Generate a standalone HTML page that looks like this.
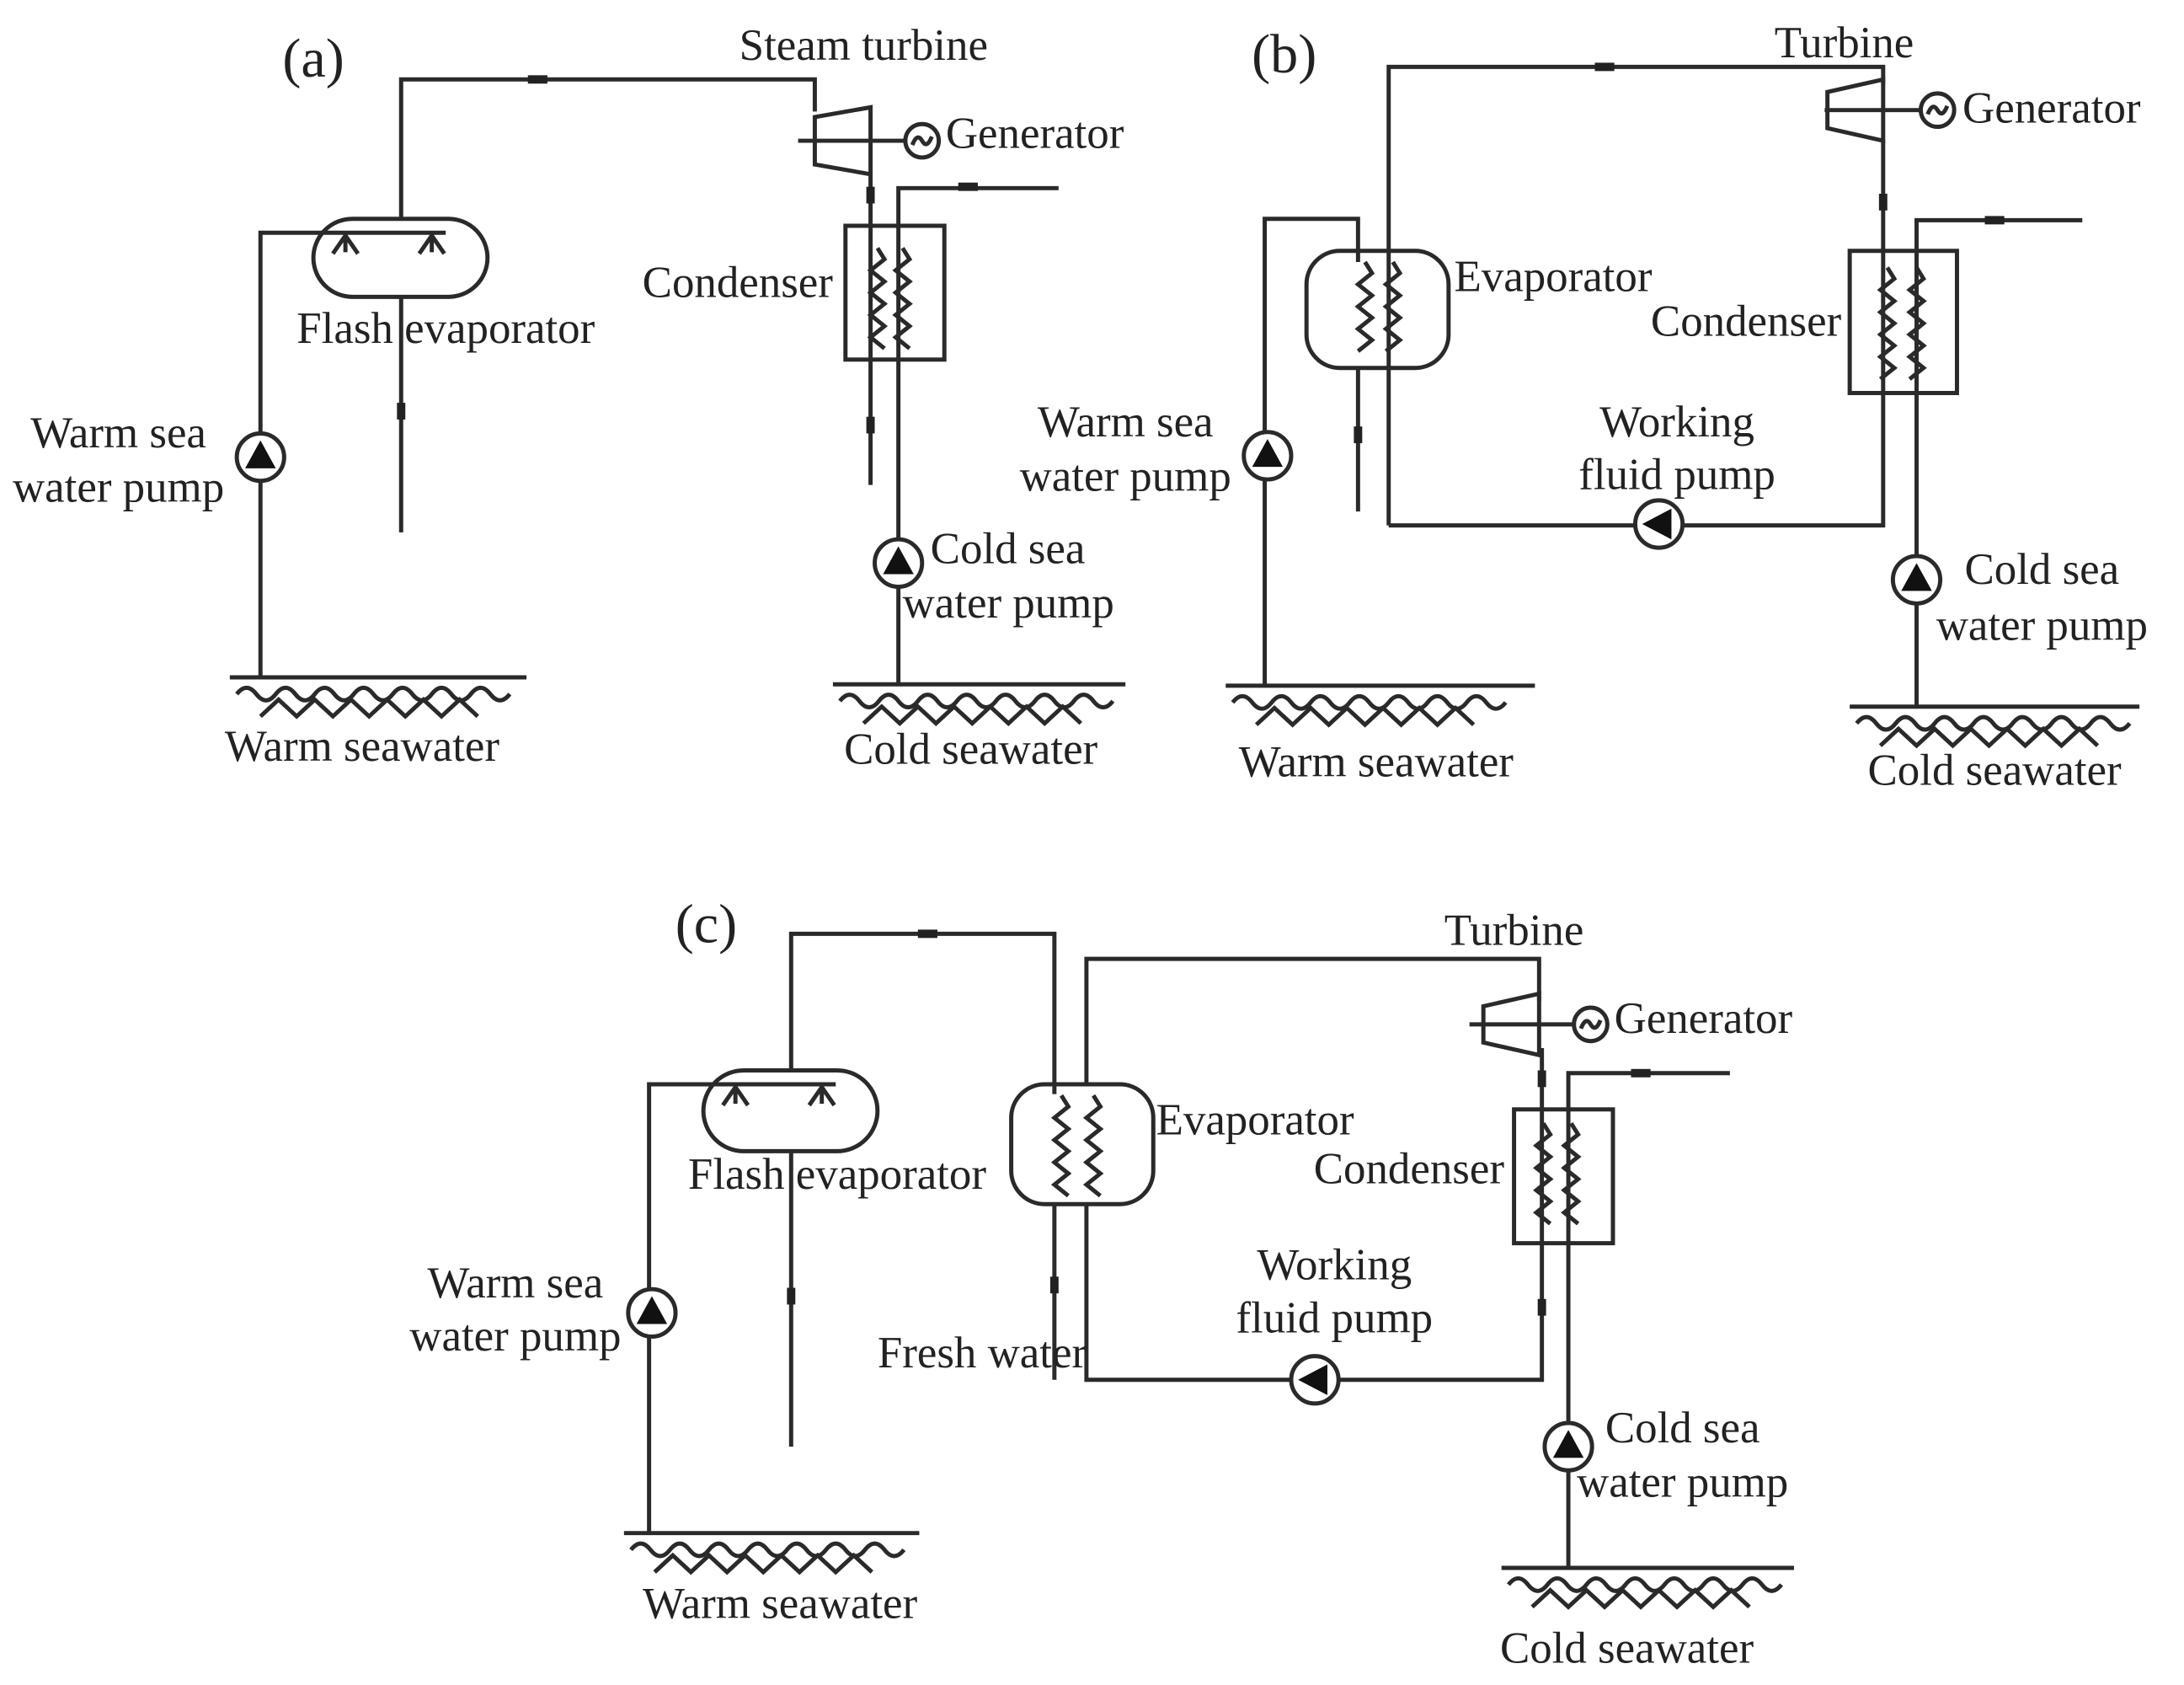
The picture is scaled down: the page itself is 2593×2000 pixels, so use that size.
<!DOCTYPE html>
<html><head><meta charset="utf-8"><style>
html,body{margin:0;padding:0;background:#fff;}
svg{display:block;}
text{font-family:"Liberation Serif",serif;font-size:32px;fill:#222;}
</style></head><body>
<svg id="s" width="2593" height="2000" viewBox="0 0 1568 1209" preserveAspectRatio="none" xmlns="http://www.w3.org/2000/svg">
<g id="g" stroke="#2a2a2a" stroke-width="3" fill="none"></g>
<g id="t"></g>
</svg>
<script>
const g=document.getElementById('g'),t=document.getElementById('t');
const NS='http://www.w3.org/2000/svg';
function el(p,tag,a){const e=document.createElementNS(NS,tag);for(const k in a)e.setAttribute(k,a[k]);p.appendChild(e);return e;}
function L(pts){el(g,'polyline',{points:pts});}
function conn(x,y,v){ if(v) el(g,'rect',{x:x-3,y:y-6,width:6,height:12,fill:'#222',stroke:'none'}); else el(g,'rect',{x:x-7,y:y-3,width:14,height:6,fill:'#222',stroke:'none'});}
function pump(x,y,dir){el(g,'circle',{cx:x,cy:y,r:17,fill:'#fff'});
 let p= dir==='l'? `${x-12},${y} ${x+9},${y-11} ${x+9},${y+11}` : `${x},${y-12} ${x-11},${y+8} ${x+11},${y+8}`;
 el(g,'polygon',{points:p,fill:'#111',stroke:'none'});}
function gen(x,y){el(g,'circle',{cx:x,cy:y,r:12,fill:'#fff'});el(g,'path',{d:`M${x-7},${y+3} q3.5,-9 7,-3 q3.5,6 7,-3`});}
function turb(xl,xr,y,h1,h2){el(g,'polygon',{points:`${xl},${y-h1} ${xr},${y-h2} ${xr},${y+h2} ${xl},${y+h1}`});}
function coil(x,y1,y2){let d=`M${x},${y1}`;let s=1;for(let y=y1+8;y<=y2;y+=8){d+=` L${x+5*s},${y}`;s=-s;}el(g,'path',{d});}
function ground(x1,x2,y){L(`${x1},${y} ${x2},${y}`);
 let d=`M${x1+5},${y+12}`;for(let x=x1+5;x<x1+0.85*(x2-x1);x+=28)d+=` q7,-9 14,0 q7,9 14,0`;el(g,'path',{d});
 let d2=`M${x1+22},${y+28}`;for(let x=x1+22;x<x1+0.78*(x2-x1);x+=26)d2+=` l13,-12 l13,12`;el(g,'path',{d:d2});}
function nozz(x,y){el(g,'path',{d:`M${x-9},${y+15} L${x},${y+2} L${x+9},${y+15} M${x},${y} L${x},${y+14}`});}
function T(x,y,s,anchor,size){const e=el(t,'text',{x,y,'text-anchor':anchor||'start'});if(size)e.setAttribute('style','font-size:'+size+'px');e.textContent=s;}

/* (a) */
L('288,157 288,57 585,57 585,80');conn(386,57);
turb(585,625,101,17,24);L('573,101 650,101');gen(662,101);
L('625,125 625,348');conn(625,140,1);conn(625,305,1);
el(g,'rect',{x:607,y:162,width:71,height:96});coil(630,178,250);coil(648,178,250);
L('760,135 645,135 645,490');conn(695,134);pump(645,404);ground(598,808,491);
el(g,'rect',{x:225,y:157,width:125,height:56,rx:28});L('187,487 187,167 320,167');nozz(248,167);nozz(310,167);
pump(187,328);ground(165,378,486);L('288,213 288,382');conn(288,295,1);
T(225,55,'(a)','middle',40);T(620,43,'Steam turbine','middle');T(679,106,'Generator');T(598,213,'Condenser','end');
T(213,246,'Flash evaporator');T(85,321,'Warm sea','middle');T(85,360,'water pump','middle');
T(668,404,'Cold sea');T(648,443,'water pump');T(260,546,'Warm seawater','middle');T(697,548,'Cold seawater','middle');

/* (b) */
el(g,'rect',{x:938,y:180,width:102,height:84,rx:24});coil(980,188,258);coil(1000,188,258);
L('997,377 997,48 1352,48 1352,60');conn(1152,48);
turb(1312,1352,79,13,22);L('1310,79 1380,79');gen(1391,79);
L('1352,101 1352,377 997,377');conn(1352,145,1);pump(1191,376,'l');
el(g,'rect',{x:1328,y:180,width:77,height:102});coil(1355,192,275);coil(1376,192,275);
L('1495,158 1376,158 1376,507');conn(1432,158);pump(1376,416);ground(1328,1536,507);
L('908,492 908,157 975,157 975,188');L('975,264 975,367');conn(975,312,1);pump(910,327);ground(880,1102,492);
T(922,52,'(b)','middle',40);T(1324,41,'Turbine','middle');T(1409,88,'Generator');T(1044,209,'Evaporator');
T(1322,241,'Condenser','end');T(808,313,'Warm sea','middle');T(808,352,'water pump','middle');
T(1204,313,'Working','middle');T(1204,351,'fluid pump','middle');T(1466,419,'Cold sea','middle');T(1466,459,'water pump','middle');
T(988,557,'Warm seawater','middle');T(1432,563,'Cold seawater','middle');

/* (c) */
el(g,'rect',{x:505,y:768,width:125,height:58,rx:29});L('466,1100 466,778 600,778');nozz(528,778);nozz(590,778);
pump(468,942);ground(448,660,1100);L('568,826 568,1038');conn(568,930,1);
L('568,768 568,670 757,670 757,785');conn(666,670);
el(g,'rect',{x:726,y:778,width:102,height:86,rx:24});coil(762,786,858);coil(785,786,858);
L('757,864 757,990');conn(757,922,1);
L('780,864 780,990 1107,990 1107,752');L('780,778 780,688 1105,688 1105,718');
turb(1065,1105,735,13,22);L('1055,735 1130,735');gen(1142,735);
conn(1107,774,1);conn(1107,938,1);pump(944,990,'l');
el(g,'rect',{x:1087,y:796,width:71,height:96});coil(1108,806,885);coil(1128,806,885);
L('1242,770 1126,770 1126,1125');conn(1178,770);pump(1126,1038);ground(1078,1288,1125);
T(507,676,'(c)','middle',40);T(1087,678,'Turbine','middle');T(1159,741,'Generator');T(830,814,'Evaporator');
T(1080,849,'Condenser','end');T(494,853,'Flash evaporator');T(370,931,'Warm sea','middle');T(370,969,'water pump','middle');
T(958,918,'Working','middle');T(958,956,'fluid pump','middle');T(630,981,'Fresh water');
T(1208,1035,'Cold sea','middle');T(1208,1074,'water pump','middle');T(560,1161,'Warm seawater','middle');T(1168,1193,'Cold seawater','middle');
</script>
</body></html>
